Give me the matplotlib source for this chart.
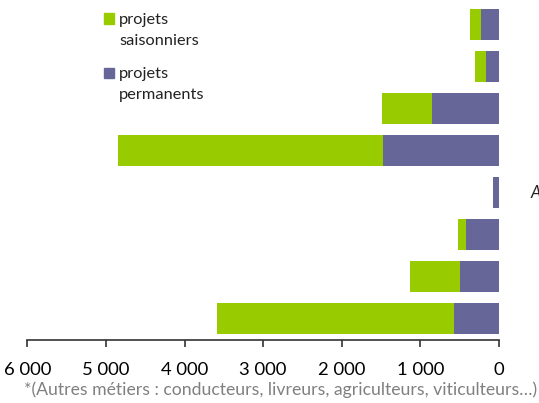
import numpy as np
import matplotlib
matplotlib.use("Agg")
import matplotlib.pyplot as plt

# values (top bar first)
categories = ["c1", "c2", "c3", "c4", "Autres*", "c6", "c7", "c8"]
saisonniers = [140, 140, 636, 3372, 0, 101, 636, 3015]
permanents = [229, 165, 852, 1475, 76, 420, 496, 572]
xticks = [6000, 5000, 4000, 3000, 2000, 1000, 0]
xticklabels = ["6 000", "5 000", "4 000", "3 000", "2 000", "1 000", "0"]

green = "#99cc00"
purple = "#666699"

plt.rcParams['font.family'] = ['Lato', 'DejaVu Sans']

fig = plt.figure(figsize=(5.39, 4.03), dpi=100)
ax = fig.add_axes([27.3/539, 1-339.5/403, 471.7/539, 336/403])

y = np.arange(len(categories))
perm = np.array(permanents)
sais = np.array(saisonniers)
ax.barh(y, perm, height=0.74, color=purple, left=0)
ax.barh(y, sais, height=0.74, color=green, left=perm)

ax.set_xlim(6000, 0)
ax.set_ylim(len(categories)-0.5, -0.5)
ax.set_xticks(xticks)
ax.set_xticklabels(xticklabels, fontsize=13.3)
ax.set_yticks([])
for s in ["top", "left", "right"]:
    ax.spines[s].set_visible(False)
ax.spines["bottom"].set_color("#333333")
ax.spines["bottom"].set_linewidth(1.2)
ax.tick_params(axis="x", direction="out", length=5, width=1.2, color="#333333", pad=11)

# only the start of the "Autres" label shows at the right edge
fig.text(531/539, 1-193/403, categories[4], fontsize=12, ha="left", va="center",
         style="italic", color="#222222")

# legend drawn by hand
fig.patches.append(plt.Rectangle((104/539, 1-23.5/403), 10/539, 10/403,
                                 transform=fig.transFigure, color=green))
fig.patches.append(plt.Rectangle((104/539, 1-78/403), 10/539, 10/403,
                                 transform=fig.transFigure, color=purple))
legend_kw = dict(fontsize=11.8, va="center", color="#222222")
fig.text(119/539, 1-20/403, "projets", **legend_kw)
fig.text(119/539, 1-41/403, "saisonniers", **legend_kw)
fig.text(119/539, 1-74/403, "projets", **legend_kw)
fig.text(119/539, 1-95/403, "permanents", **legend_kw)

fig.text(537/539, 1-390/403,
         "*(Autres métiers : conducteurs, livreurs, agriculteurs, viticulteurs…)",
         fontsize=12.7, ha="right", va="center", color="#808080")

fig.savefig("out.png", dpi=100)
